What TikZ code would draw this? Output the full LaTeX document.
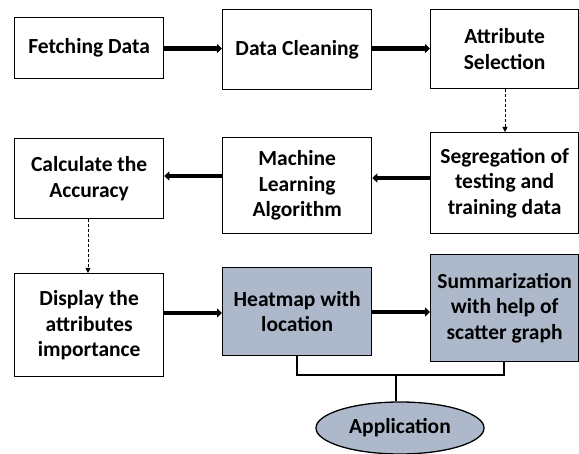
\documentclass[tikz,border=0pt]{standalone}
\usepackage{fontspec}
\setmainfont{Carlito}
\usetikzlibrary{arrows.meta,shapes.geometric}
\definecolor{boxfill}{RGB}{173,185,202}
\begin{document}
\begin{tikzpicture}[x=1pt,y=-1pt,
  box/.style={draw=black,line width=1.3pt,align=center,inner sep=0pt,
    font=\fontsize{21.5}{25.5}\selectfont\bfseries,anchor=north west},
  filled/.style={box,fill=boxfill},
  thickarrow/.style={line width=4.5pt,-{Triangle[length=5pt,width=9pt]}},
  dasharrow/.style={dash pattern=on 3pt off 2pt,line width=0.9pt,-{Triangle[length=5pt,width=5pt]}},
  plainline/.style={line width=1.3pt}]
\useasboundingbox (0,0) rectangle (579,454);
\node[box,minimum width=149pt,minimum height=61pt] (fetch) at (14,17) {Fetching Data};
\node[box,minimum width=149pt,minimum height=80pt] (clean) at (222,9) {Data Cleaning};
\node[box,minimum width=148pt,minimum height=79pt] (attr) at (430,9) {Attribute\\Selection};
\node[box,minimum width=149pt,minimum height=80pt] (calc) at (14,138) {Calculate the\\Accuracy};
\node[box,minimum width=149pt,minimum height=96pt] (ml) at (222,137) {Machine\\Learning\\Algorithm};
\node[box,minimum width=148pt,minimum height=101pt] (seg) at (430,132) {Segregation of\\testing and\\training data};
\node[box,minimum width=149pt,minimum height=103pt] (disp) at (14,273) {Display the\\attributes\\importance};
\node[filled,minimum width=149pt,minimum height=88pt] (heat) at (222,267) {Heatmap with\\location};
\node[filled,minimum width=148pt,minimum height=107pt] (summ) at (430,254) {Summarization\\with help of\\scatter graph};
\node[ellipse,draw=black,line width=1.3pt,fill=boxfill,minimum width=168pt,minimum height=52pt,inner sep=0pt,
  font=\fontsize{21.5}{25.5}\selectfont\bfseries] (app) at (400,428) {Application};
\draw[thickarrow] (fetch.east |- 0,48.5) -- (clean.west |- 0,48.5);
\draw[thickarrow] (clean.east |- 0,48.5) -- (attr.west |- 0,48.5);
\draw[dasharrow] (attr.south -| 505,0) -- (seg.north -| 505,0);
\draw[thickarrow] (seg.west |- 0,178) -- (ml.east |- 0,178);
\draw[thickarrow] (ml.west |- 0,176) -- (calc.east |- 0,176);
\draw[dasharrow] (calc.south -| 88,0) -- (disp.north -| 88,0);
\draw[thickarrow] (disp.east |- 0,313) -- (heat.west |- 0,313);
\draw[thickarrow] (heat.east |- 0,312) -- (summ.west |- 0,312);
\coordinate (bl) at (297,375);
\coordinate (br) at (504,375);
\coordinate (bm) at (396,375);
\draw[plainline] (heat.south -| bl) -- (bl) -- (br) -- (summ.south -| br);
\draw[plainline] (bm) -- (app.north -| bm);
\end{tikzpicture}
\end{document}
